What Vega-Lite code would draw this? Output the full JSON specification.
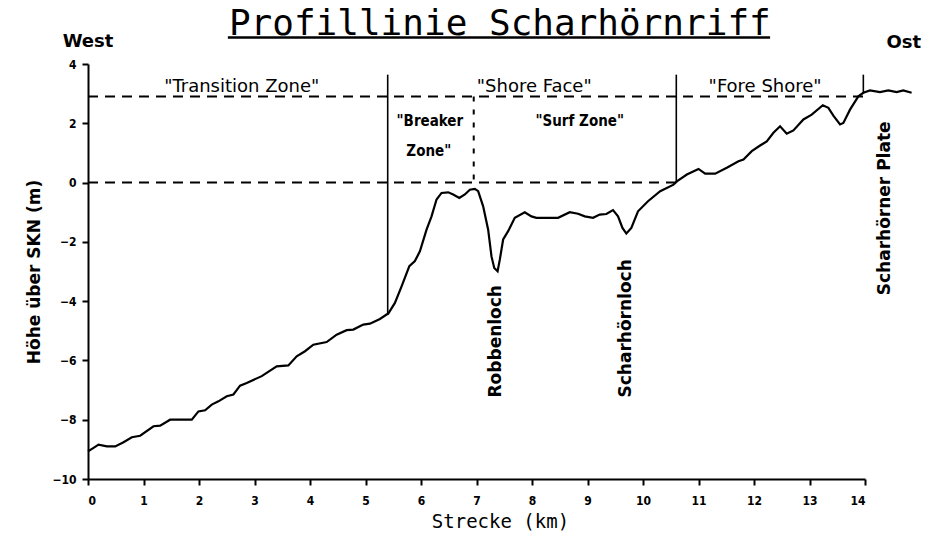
{
  "$schema": "https://vega.github.io/schema/vega-lite/v6.json",
  "width": 777,
  "height": 415,
  "autosize": {"type": "none"},
  "padding": {"left": 88, "top": 64, "right": 69, "bottom": 65},
  "background": "white",
  "config": {
    "view": {"stroke": null},
    "axis": {
      "domainColor": "black", "domainWidth": 2, "tickColor": "black", "tickWidth": 2,
      "labelColor": "black", "titleColor": "black", "grid": false,
      "labelFont": "DejaVu Sans Condensed", "labelFontWeight": "bold", "labelFontSize": 12
    }
  },
  "datasets": {
    "profile": [
      {"km": 0, "m": -9.07}, {"km": 0.1, "m": -8.95}, {"km": 0.19, "m": -8.84}, {"km": 0.34, "m": -8.9},
      {"km": 0.49, "m": -8.9}, {"km": 0.64, "m": -8.76}, {"km": 0.79, "m": -8.59}, {"km": 0.94, "m": -8.54},
      {"km": 1.18, "m": -8.22}, {"km": 1.3, "m": -8.2}, {"km": 1.48, "m": -8.0}, {"km": 1.87, "m": -8.0},
      {"km": 1.99, "m": -7.72}, {"km": 2.11, "m": -7.68}, {"km": 2.23, "m": -7.49}, {"km": 2.35, "m": -7.38},
      {"km": 2.5, "m": -7.21}, {"km": 2.62, "m": -7.15}, {"km": 2.74, "m": -6.85}, {"km": 2.86, "m": -6.76},
      {"km": 3.13, "m": -6.53}, {"km": 3.4, "m": -6.2}, {"km": 3.61, "m": -6.17}, {"km": 3.76, "m": -5.86},
      {"km": 3.91, "m": -5.69}, {"km": 4.06, "m": -5.47}, {"km": 4.3, "m": -5.38}, {"km": 4.48, "m": -5.13},
      {"km": 4.66, "m": -4.98}, {"km": 4.78, "m": -4.96}, {"km": 4.96, "m": -4.79}, {"km": 5.08, "m": -4.76},
      {"km": 5.26, "m": -4.6}, {"km": 5.38, "m": -4.45}, {"km": 5.41, "m": -4.42}, {"km": 5.53, "m": -4.06},
      {"km": 5.65, "m": -3.5}, {"km": 5.79, "m": -2.82}, {"km": 5.89, "m": -2.65}, {"km": 5.98, "m": -2.32},
      {"km": 6.1, "m": -1.59}, {"km": 6.19, "m": -1.14}, {"km": 6.28, "m": -0.57}, {"km": 6.37, "m": -0.35},
      {"km": 6.49, "m": -0.33}, {"km": 6.58, "m": -0.4}, {"km": 6.69, "m": -0.52}, {"km": 6.79, "m": -0.4},
      {"km": 6.88, "m": -0.24}, {"km": 6.97, "m": -0.21}, {"km": 7.03, "m": -0.29}, {"km": 7.12, "m": -0.8},
      {"km": 7.21, "m": -1.59}, {"km": 7.27, "m": -2.49}, {"km": 7.32, "m": -2.88}, {"km": 7.38, "m": -2.99},
      {"km": 7.42, "m": -2.6}, {"km": 7.48, "m": -1.92}, {"km": 7.57, "m": -1.64}, {"km": 7.69, "m": -1.19},
      {"km": 7.87, "m": -1.0}, {"km": 7.99, "m": -1.14}, {"km": 8.08, "m": -1.19}, {"km": 8.47, "m": -1.19},
      {"km": 8.68, "m": -1.0}, {"km": 8.83, "m": -1.05}, {"km": 8.95, "m": -1.14}, {"km": 9.1, "m": -1.19},
      {"km": 9.22, "m": -1.08}, {"km": 9.34, "m": -1.06}, {"km": 9.46, "m": -0.93}, {"km": 9.55, "m": -1.14},
      {"km": 9.63, "m": -1.53}, {"km": 9.7, "m": -1.72}, {"km": 9.79, "m": -1.53}, {"km": 9.91, "m": -0.97},
      {"km": 10.09, "m": -0.63}, {"km": 10.31, "m": -0.29}, {"km": 10.55, "m": -0.07}, {"km": 10.61, "m": 0.04},
      {"km": 10.79, "m": 0.27}, {"km": 11.0, "m": 0.46}, {"km": 11.12, "m": 0.3}, {"km": 11.3, "m": 0.3},
      {"km": 11.51, "m": 0.5}, {"km": 11.72, "m": 0.72}, {"km": 11.81, "m": 0.78}, {"km": 11.96, "m": 1.06},
      {"km": 12.11, "m": 1.25}, {"km": 12.23, "m": 1.39}, {"km": 12.35, "m": 1.68}, {"km": 12.47, "m": 1.9},
      {"km": 12.59, "m": 1.65}, {"km": 12.71, "m": 1.76}, {"km": 12.89, "m": 2.13}, {"km": 13.04, "m": 2.29},
      {"km": 13.24, "m": 2.61}, {"km": 13.34, "m": 2.52}, {"km": 13.43, "m": 2.26}, {"km": 13.55, "m": 1.96},
      {"km": 13.61, "m": 2.01}, {"km": 13.73, "m": 2.46}, {"km": 13.88, "m": 2.91}, {"km": 13.97, "m": 3.03},
      {"km": 14.09, "m": 3.11}, {"km": 14.27, "m": 3.05}, {"km": 14.42, "m": 3.11}, {"km": 14.57, "m": 3.05},
      {"km": 14.69, "m": 3.11}, {"km": 14.84, "m": 3.03}
    ],
    "boundaries": [
      {"x": 5.4, "top": 3.64, "bottom": -4.45},
      {"x": 10.6, "top": 3.64, "bottom": 0.0},
      {"x": 13.97, "top": 3.64, "bottom": 3.0}
    ],
    "breakerLimit": [{"x": 6.95, "top": 2.9, "bottom": 0.0}],
    "levels": [
      {"from": 0, "to": 13.97, "level": 2.9},
      {"from": 0, "to": 10.6, "level": 0.0}
    ],
    "heading": [{"x": 7.42, "y": 4.99, "label": "Profillinie Scharhörnriff"}],
    "underline": [{"from": 2.52, "to": 12.29, "level": 4.89}],
    "zones": [
      {"x": 2.77, "y": 3.24, "label": "\"Transition Zone\""},
      {"x": 8.04, "y": 3.24, "label": "\"Shore Face\""},
      {"x": 12.2, "y": 3.24, "label": "\"Fore Shore\""}
    ],
    "subzones": [
      {"x": 6.16, "y": 2.09, "label": "\"Breaker"},
      {"x": 6.14, "y": 1.08, "label": "Zone\""},
      {"x": 8.86, "y": 2.09, "label": "\"Surf Zone\""}
    ],
    "compass": [
      {"x": 0.0, "y": 4.74, "label": "West"},
      {"x": 14.7, "y": 4.72, "label": "Ost"}
    ],
    "features": [
      {"x": 7.35, "y": -7.25, "label": "Robbenloch"},
      {"x": 9.69, "y": -7.25, "label": "Scharhörnloch"},
      {"x": 14.36, "y": -3.8, "label": "Scharhörner Plate"}
    ]
  },
  "layer": [
    {
      "data": {"name": "profile"},
      "mark": {"type": "line", "color": "black", "strokeWidth": 2.2, "interpolate": "linear"},
      "encoding": {
        "x": {
          "field": "km", "type": "quantitative",
          "scale": {"domain": [0, 14], "nice": false},
          "axis": {
            "values": [0, 1, 2, 3, 4, 5, 6, 7, 8, 9, 10, 11, 12, 13, 14], "format": "d",
            "tickSize": 6, "labelPadding": 10,
            "title": "Strecke (km)", "titleFont": "DejaVu Sans Mono", "titleFontSize": 19,
            "titleFontWeight": "normal", "titlePadding": 6, "titleX": 412
          }
        },
        "y": {
          "field": "m", "type": "quantitative",
          "scale": {"domain": [-10, 4], "nice": false},
          "axis": {
            "values": [-10, -8, -6, -4, -2, 0, 2, 4], "format": "d",
            "tickSize": 6, "labelPadding": 6,
            "title": "Höhe über SKN (m)", "titleFont": "DejaVu Sans", "titleFontSize": 17,
            "titleFontWeight": "bold", "titlePadding": 8
          }
        }
      }
    },
    {
      "data": {"name": "levels"},
      "mark": {"type": "rule", "color": "black", "strokeWidth": 2, "strokeDash": [10, 7]},
      "encoding": {
        "x": {"field": "from", "type": "quantitative"},
        "x2": {"field": "to"},
        "y": {"field": "level", "type": "quantitative"}
      }
    },
    {
      "data": {"name": "underline"},
      "mark": {"type": "rule", "color": "black", "strokeWidth": 2.5},
      "encoding": {
        "x": {"field": "from", "type": "quantitative"},
        "x2": {"field": "to"},
        "y": {"field": "level", "type": "quantitative"}
      }
    },
    {
      "data": {"name": "boundaries"},
      "mark": {"type": "rule", "color": "black", "strokeWidth": 1.6},
      "encoding": {
        "x": {"field": "x", "type": "quantitative"},
        "y": {"field": "top", "type": "quantitative"},
        "y2": {"field": "bottom"}
      }
    },
    {
      "data": {"name": "breakerLimit"},
      "mark": {"type": "rule", "color": "black", "strokeWidth": 2, "strokeDash": [5, 8]},
      "encoding": {
        "x": {"field": "x", "type": "quantitative"},
        "y": {"field": "top", "type": "quantitative"},
        "y2": {"field": "bottom"}
      }
    },
    {
      "data": {"name": "heading"},
      "mark": {"type": "text", "font": "DejaVu Sans Mono", "fontSize": 36, "color": "black", "align": "center", "baseline": "alphabetic"},
      "encoding": {
        "x": {"field": "x", "type": "quantitative"},
        "y": {"field": "y", "type": "quantitative"},
        "text": {"field": "label"}
      }
    },
    {
      "data": {"name": "zones"},
      "mark": {"type": "text", "font": "DejaVu Sans", "fontSize": 18, "color": "black", "align": "center", "baseline": "middle"},
      "encoding": {
        "x": {"field": "x", "type": "quantitative"},
        "y": {"field": "y", "type": "quantitative"},
        "text": {"field": "label"}
      }
    },
    {
      "data": {"name": "subzones"},
      "mark": {"type": "text", "font": "DejaVu Sans Condensed", "fontWeight": "bold", "fontSize": 15, "color": "black", "align": "center", "baseline": "middle"},
      "encoding": {
        "x": {"field": "x", "type": "quantitative"},
        "y": {"field": "y", "type": "quantitative"},
        "text": {"field": "label"}
      }
    },
    {
      "data": {"name": "compass"},
      "mark": {"type": "text", "font": "DejaVu Sans", "fontWeight": "bold", "fontSize": 18, "color": "black", "align": "center", "baseline": "middle"},
      "encoding": {
        "x": {"field": "x", "type": "quantitative"},
        "y": {"field": "y", "type": "quantitative"},
        "text": {"field": "label"}
      }
    },
    {
      "data": {"name": "features"},
      "mark": {"type": "text", "font": "DejaVu Sans", "fontWeight": "bold", "fontSize": 17, "color": "black", "align": "left", "baseline": "middle", "angle": 270},
      "encoding": {
        "x": {"field": "x", "type": "quantitative"},
        "y": {"field": "y", "type": "quantitative"},
        "text": {"field": "label"}
      }
    }
  ]
}
